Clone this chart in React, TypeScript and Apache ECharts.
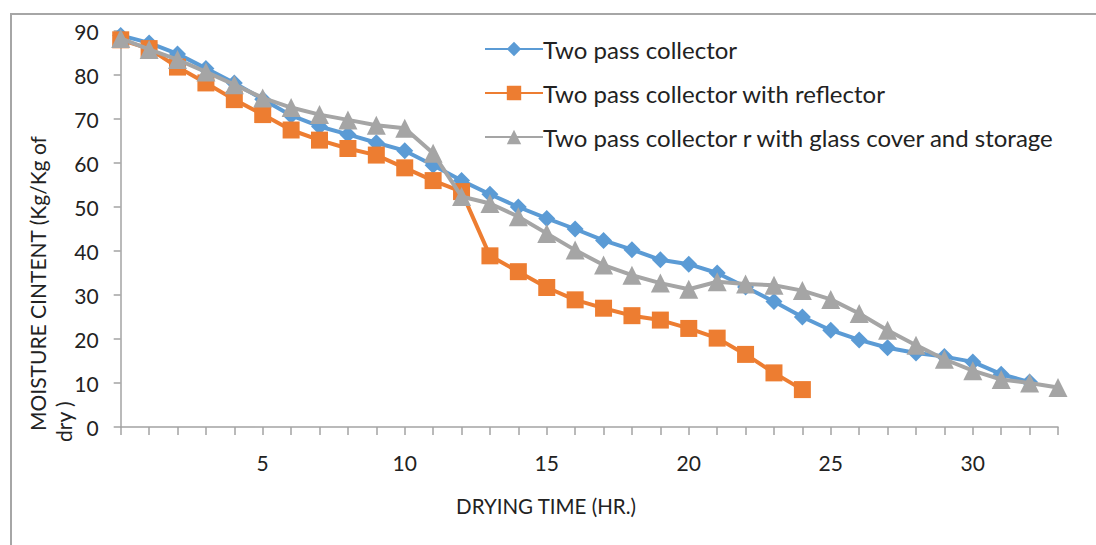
import React, { useEffect, useRef } from "react";
import * as echarts from "echarts";

const seriesNames = [
  "Two pass collector",
  "Two pass collector with reflector",
  "Two pass collector r with glass cover and storage",
];
const twoPass = [89, 87.3, 84.8, 81.5, 78.2, 74.5, 70.8, 68.3, 66.5, 64.6, 62.8, 59.5, 56, 52.9, 50, 47.4, 45, 42.4, 40.3, 38, 37, 35, 31.8, 28.5, 25, 22, 19.8, 18, 16.8, 16, 14.8, 12, 10.2];
const withReflector = [88, 86, 81.8, 78.2, 74.4, 71, 67.5, 65.2, 63.3, 61.8, 58.9, 56, 53.5, 38.9, 35.3, 31.7, 28.9, 27, 25.3, 24.3, 22.4, 20.2, 16.5, 12.3, 8.5];
const withGlass = [88.3, 85.8, 83.5, 80.7, 77.8, 74.8, 72.6, 71, 69.8, 68.6, 67.9, 62.2, 52.4, 50.8, 47.8, 44, 40.2, 36.8, 34.5, 32.7, 31.3, 33, 32.5, 32.2, 31, 29, 25.8, 22, 18.6, 15.4, 12.8, 10.8, 10, 9];
const xTickLabels = [5, 10, 15, 20, 25, 30];
const yTitle = ["MOISTURE CINTENT (Kg/Kg of", "dry )"];
const xTitle = "DRYING TIME (HR.)";

const FONT = "Lato";
const TXT = "#222222";
const AXIS = "#A3A3A3";

const toPairs = (arr: number[]) => arr.map((v, i) => [i, v]);

export default function App() {
  const ref = useRef<HTMLDivElement>(null);
  useEffect(() => {
    if (!ref.current) return;
    const chart = echarts.init(ref.current, null, { renderer: "svg" });
    const colors = ["#5B9BD5", "#ED7D31", "#A5A5A5"];
    const symbols = ["diamond", "rect", "triangle"];
    const sizes = [17, 17, 19];
    const datasets = [twoPass, withReflector, withGlass];
    chart.setOption({
      animation: false,
      color: colors,
      textStyle: { fontFamily: FONT },
      grid: { left: 120.7, right: 38, top: 31, bottom: 118, containLabel: false },
      legend: {
        orient: "vertical",
        left: 479,
        top: 32,
        itemWidth: 58,
        itemHeight: 18,
        itemGap: 20,
        textStyle: { fontFamily: FONT, fontSize: 24, lineHeight: 24, color: TXT, padding: [0, 0, 0, -5] },
        data: seriesNames,
      },
      xAxis: {
        type: "value",
        min: 0,
        max: 33,
        interval: 1,
        splitLine: { show: false },
        axisLine: { lineStyle: { color: AXIS, width: 1.5 } },
        axisTick: { show: true, inside: false, length: 8, lineStyle: { color: AXIS, width: 1.5 } },
        axisLabel: {
          margin: 25,
          fontFamily: FONT,
          fontSize: 21,
          color: TXT,
          formatter: (v: number) => (xTickLabels.includes(v) ? String(v) : ""),
        },
      },
      yAxis: {
        type: "value",
        min: 0,
        max: 90,
        interval: 10,
        splitLine: { show: false },
        axisLine: { show: true, lineStyle: { color: AXIS, width: 1.5 } },
        axisTick: { show: true, inside: false, length: 7, lineStyle: { color: AXIS, width: 1.5 } },
        axisLabel: { margin: 22, fontFamily: FONT, fontSize: 21, color: TXT },
      },
      series: datasets.map((d, i) => ({
        name: seriesNames[i],
        type: "line",
        data: toPairs(d),
        symbol: symbols[i],
        symbolSize: sizes[i],
        showAllSymbol: true,
        lineStyle: { width: 4, color: colors[i] },
        itemStyle: { color: colors[i] },
        z: 2 + (i === 1 ? 0 : i),
      })),
      graphic: [
        {
          type: "rect",
          shape: { x: 11, y: 14, width: 1200, height: 700 },
          style: { fill: "none", stroke: "#A6A6A6", lineWidth: 2 },
          silent: true,
        },
        {
          type: "text",
          x: 37,
          y: 431,
          rotation: Math.PI / 2,
          style: { text: yTitle[0], fontFamily: FONT, fontSize: 21, fill: TXT, align: "left", verticalAlign: "middle" },
        },
        {
          type: "text",
          x: 63,
          y: 442,
          rotation: Math.PI / 2,
          style: { text: yTitle[1], fontFamily: FONT, fontSize: 21, fill: TXT, align: "left", verticalAlign: "middle" },
        },
        {
          type: "text",
          x: 546,
          y: 506,
          style: { text: xTitle, fontFamily: FONT, fontSize: 20.5, fill: TXT, align: "center", verticalAlign: "middle" },
        },
      ],
    });
    return () => chart.dispose();
  }, []);
  return (
    <div
      ref={ref}
      style={{ position: "fixed", left: 0, top: 0, width: 1096, height: 545, background: "#fff" }}
    />
  );
}
